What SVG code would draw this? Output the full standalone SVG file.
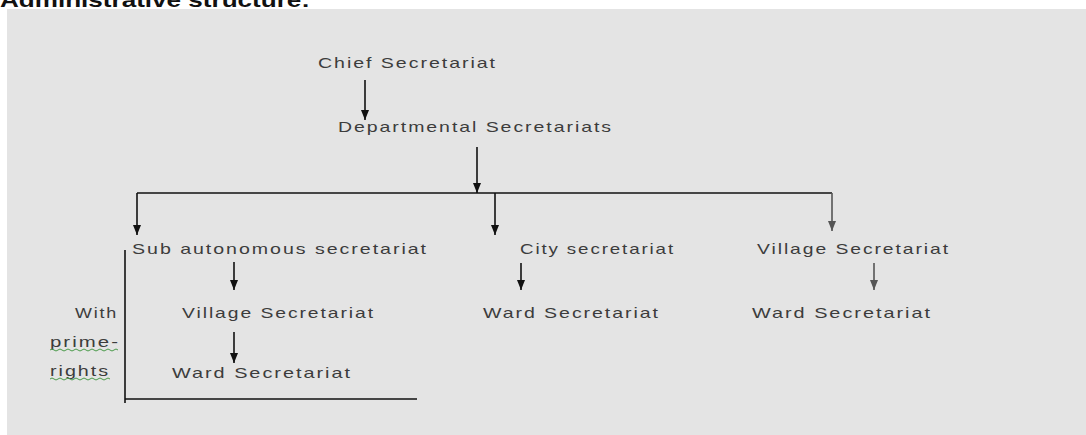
<svg xmlns="http://www.w3.org/2000/svg" width="1086" height="435" viewBox="0 0 1086 435">
<defs>
<style>
.t{font-family:"Liberation Sans",Arial,sans-serif;font-size:15px;letter-spacing:1.5px;fill:#3c3c3c;}
.ttl{font-family:"Liberation Sans",Arial,sans-serif;font-size:20px;font-weight:bold;fill:#111;}
.ln{stroke:#111;stroke-width:1.6;fill:none;}
.gr{stroke:#555;}
.sq{stroke:#4a9a4a;stroke-width:1;fill:none;}
</style>
<marker id="ah" viewBox="0 0 10 8" refX="10" refY="4" markerWidth="10" markerHeight="8" markerUnits="userSpaceOnUse" orient="auto">
<path d="M0,0 L10,4 L0,8 Z" fill="#111"/>
</marker>
<marker id="ahg" viewBox="0 0 10 8" refX="10" refY="4" markerWidth="10" markerHeight="8" markerUnits="userSpaceOnUse" orient="auto">
<path d="M0,0 L10,4 L0,8 Z" fill="#555"/>
</marker>
</defs>
<rect x="0" y="0" width="1086" height="435" fill="#ffffff"/>
<rect x="7" y="9" width="1079" height="426" fill="#e4e4e4"/>
<text class="ttl" x="0" y="7" textLength="310" lengthAdjust="spacingAndGlyphs">Administrative structure:</text>

<g id="connectors">
<line class="ln" x1="365" y1="80" x2="365" y2="120" marker-end="url(#ah)"/>
<line class="ln" x1="477" y1="147" x2="477" y2="193" marker-end="url(#ah)"/>
<line class="ln" x1="137" y1="193" x2="832" y2="193"/>
<line class="ln" x1="137" y1="193" x2="137" y2="235" marker-end="url(#ah)"/>
<line class="ln" x1="495" y1="193" x2="495" y2="235" marker-end="url(#ah)"/>
<line class="ln gr" x1="832" y1="193" x2="832" y2="231" marker-end="url(#ahg)"/>
<line class="ln" x1="234" y1="262" x2="234" y2="290" marker-end="url(#ah)"/>
<line class="ln" x1="234" y1="332" x2="234" y2="363" marker-end="url(#ah)"/>
<line class="ln" x1="521" y1="263" x2="521" y2="290" marker-end="url(#ah)"/>
<line class="ln gr" x1="874" y1="263" x2="874" y2="290" marker-end="url(#ahg)"/>
<line class="ln" x1="125" y1="250" x2="125" y2="403"/>
<line class="ln" x1="125" y1="399" x2="417" y2="399"/>
</g>

<g id="chief"><text class="t" x="318" y="68" textLength="179" lengthAdjust="spacingAndGlyphs">Chief Secretariat</text></g>
<g id="departmental"><text class="t" x="338" y="132" textLength="275" lengthAdjust="spacingAndGlyphs">Departmental Secretariats</text></g>
<g id="sub-autonomous"><text class="t" x="132" y="254" textLength="296" lengthAdjust="spacingAndGlyphs">Sub autonomous secretariat</text></g>
<g id="village-left"><text class="t" x="182" y="318" textLength="193" lengthAdjust="spacingAndGlyphs">Village Secretariat</text></g>
<g id="ward-left"><text class="t" x="172" y="378" textLength="180" lengthAdjust="spacingAndGlyphs">Ward Secretariat</text></g>
<g id="city"><text class="t" x="520" y="254" textLength="155" lengthAdjust="spacingAndGlyphs">City secretariat</text></g>
<g id="ward-mid"><text class="t" x="483" y="318" textLength="177" lengthAdjust="spacingAndGlyphs">Ward Secretariat</text></g>
<g id="village-right"><text class="t" x="757" y="254" textLength="193" lengthAdjust="spacingAndGlyphs">Village Secretariat</text></g>
<g id="ward-right"><text class="t" x="752" y="318" textLength="180" lengthAdjust="spacingAndGlyphs">Ward Secretariat</text></g>
<g id="side-label">
<text class="t" x="75" y="318" textLength="43" lengthAdjust="spacingAndGlyphs">With</text>
<text class="t" x="50" y="347" textLength="70" lengthAdjust="spacingAndGlyphs">prime-</text>
<text class="t" x="50" y="376" textLength="60" lengthAdjust="spacingAndGlyphs">rights</text>
<path class="sq" d="M50,350 q2,-2 4,0 t4,0 t4,0 t4,0 t4,0 t4,0 t4,0 t4,0 t4,0 t4,0 t4,0 t4,0 t4,0 t4,0 t4,0 t4,0 t4,0"/>
<path class="sq" d="M50,379 q2,-2 4,0 t4,0 t4,0 t4,0 t4,0 t4,0 t4,0 t4,0 t4,0 t4,0 t4,0 t4,0 t4,0 t4,0 t4,0"/>
</g>
</svg>
